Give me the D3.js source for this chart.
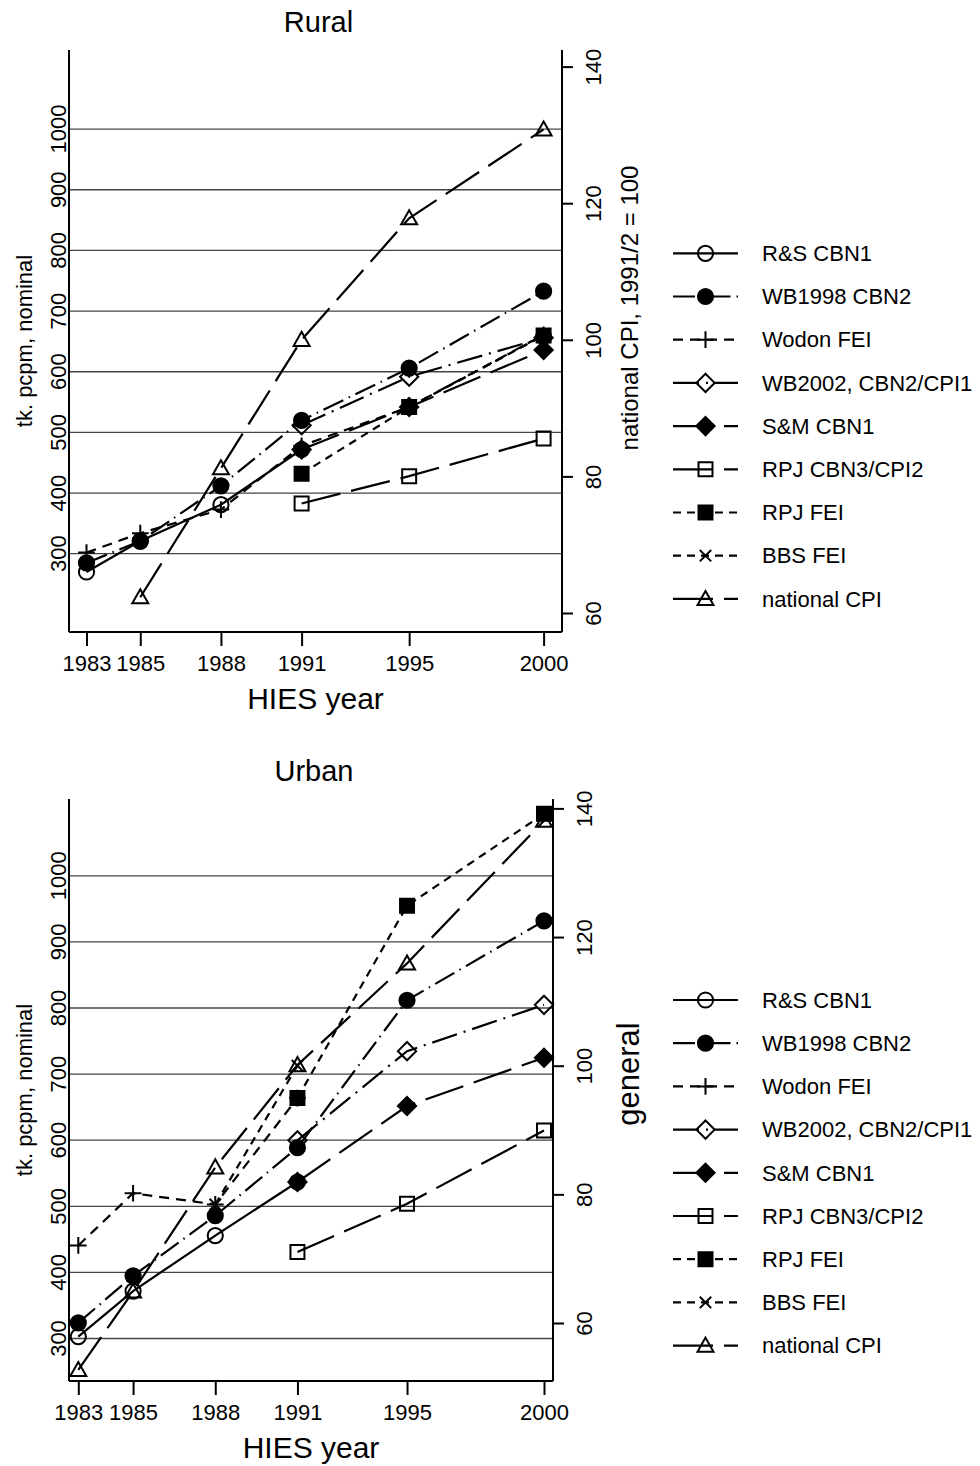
<!DOCTYPE html>
<html>
<head>
<meta charset="utf-8">
<script src="https://cdn.jsdelivr.net/npm/d3@7"></script>
<style>
  body { margin: 0; background: #fff; }
  svg { display: block; font-family: "Liberation Sans", Arial, sans-serif; }
</style>
</head>
<body>
<div id="chart"></div>
<script>
// DATA ------------------------

const years = [1983, 1985, 1988, 1991, 1995, 2000]
const leftTicks = [300, 400, 500, 600, 700, 800, 900, 1000]
const rightTicks = [60, 80, 100, 120, 140]
const seriesNames = [
  "R&S CBN1",
  "WB1998 CBN2",
  "Wodon FEI",
  "WB2002, CBN2/CPI1",
  "S&M CBN1",
  "RPJ CBN3/CPI2",
  "RPJ FEI",
  "BBS FEI",
  "national CPI",
]

// rural poverty lines, tk. pcpm (null = no estimate that year)
const ruralRS = [269, 320, 380, 471, null, null]
const ruralWB1998 = [284, 320, 411, 519, 605, 732]
const ruralWodon = [301, 333, 372, 477, 541, 660]
const ruralWB2002 = [null, null, null, 511, 591, 655]
const ruralSM = [null, null, null, 471, 541, 635]
const ruralRPJCbn = [null, null, null, 382, 427, 489]
const ruralRPJFei = [null, null, null, 431, 541, 659]
const ruralBBS = [null, null, null, null, 541, 659]
const ruralCPI = [null, 62.3, 81.2, 100, 117.8, 130.8] // right axis

// urban poverty lines, tk. pcpm
const urbanRS = [302, 371, 455, 536, null, null]
const urbanWB1998 = [323, 394, 485, 588, 811, 931]
const urbanWodon = [440, 519, 502, 663, null, null]
const urbanWB2002 = [null, null, null, 599, 734, 804]
const urbanSM = [null, null, null, 536, 651, 724]
const urbanRPJCbn = [null, null, null, 430, 503, 614]
const urbanRPJFei = [null, null, null, 663, 954, 1093]
const urbanBBS = [null, null, 502, 712, null, null]
const urbanCPI = [52.7, 64.9, 84.2, 100.1, 115.9, 138.1] // right axis

// STYLES ----------------------

const seriesStyles = [
  { marker: "circle", filled: false, dash: null },
  { marker: "circle", filled: true, dash: "22,6,1.5,6" },
  { marker: "plus", filled: false, dash: "10,7" },
  { marker: "diamond", filled: false, dash: "26,7,2,7" },
  { marker: "diamond", filled: true, dash: "40,11" },
  { marker: "square", filled: false, dash: "40,11" },
  { marker: "square", filled: true, dash: "8,6" },
  { marker: "cross", filled: false, dash: "8,6" },
  { marker: "triangle", filled: false, dash: "40,11" },
]

const FONT_XTICK = 22
const FONT_YTICK = 22
const FONT_AXIS_TITLE = 22
const FONT_LEGEND = 22
const MARKER = 7.6

const panels = [
  {
    title: "Rural",
    series: [ruralRS, ruralWB1998, ruralWodon, ruralWB2002, ruralSM, ruralRPJCbn, ruralRPJFei, ruralBBS, ruralCPI],
    frame: { top: 50, bottom: 632, left: 69, right: 562 },
    xRange: [86.5, 543.6],
    yRange: [553.2, 128.6],
    y2Range: [613, 66.6],
    rightTitle: "national CPI, 1991/2 = 100",
    rightTitleSize: 24,
    rightTitleX: 630,
    rightTitleY: 308,
    legendTop: 253.3,
  },
  {
    title: "Urban",
    series: [urbanRS, urbanWB1998, urbanWodon, urbanWB2002, urbanSM, urbanRPJCbn, urbanRPJFei, urbanBBS, urbanCPI],
    frame: { top: 799, bottom: 1381, left: 69, right: 553 },
    xRange: [78.3, 544],
    yRange: [1338, 875.3],
    y2Range: [1323, 808.4],
    rightTitle: "general",
    rightTitleSize: 31,
    rightTitleX: 628,
    rightTitleY: 1074,
    legendTop: 1000,
  },
]

const markerPath = (type, s) => {
  switch (type) {
    case "circle":
      return `M${-s},0a${s},${s} 0 1,0 ${2 * s},0a${s},${s} 0 1,0 ${-2 * s},0Z`
    case "square":
      return `M${-s * 0.92},${-s * 0.92}H${s * 0.92}V${s * 0.92}H${-s * 0.92}Z`
    case "diamond":
      return `M0,${-s * 1.2}L${s * 1.2},0L0,${s * 1.2}L${-s * 1.2},0Z`
    case "triangle":
      return `M0,${-s * 1.05}L${s * 1.05},${s * 0.8}L${-s * 1.05},${s * 0.8}Z`
    case "plus":
      return `M${-s * 1.1},0H${s * 1.1}M0,${-s * 1.1}V${s * 1.1}`
    case "cross":
      return `M${-s * 0.75},${-s * 0.75}L${s * 0.75},${s * 0.75}M${-s * 0.75},${s * 0.75}L${s * 0.75},${-s * 0.75}`
  }
}

const drawMarker = (g, style, x, y) => {
  g.append("path")
    .attr("d", markerPath(style.marker, MARKER))
    .attr("transform", `translate(${x},${y})`)
    .attr("fill", style.filled ? "#000" : "none")
    .attr("stroke", "#000")
    .attr("stroke-width", 2)
}

const svg = d3
  .select("#chart")
  .append("svg")
  .attr("width", 980)
  .attr("height", 1466)

panels.forEach(p => {
  const { frame } = p
  const g = svg.append("g").attr("class", "panel")

  // SCALES ----------------------

  const xScale = d3.scaleLinear().domain([1983, 2000]).range(p.xRange)
  const yScale = d3.scaleLinear().domain([300, 1000]).range(p.yRange)
  const y2Scale = d3.scaleLinear().domain([60, 140]).range(p.y2Range)

  // GRID ------------------------

  g.append("g")
    .attr("class", "grid")
    .attr("transform", `translate(${frame.left},0)`)
    .call(
      d3.axisLeft(yScale)
        .tickValues(leftTicks)
        .tickSize(-(frame.right - frame.left))
        .tickFormat("")
    )
    .call(s => s.select(".domain").remove())
    .selectAll("line")
    .attr("stroke", "#444")
    .attr("stroke-width", 1.3)

  // AXES ------------------------

  const gXAxis = g
    .append("g")
    .attr("transform", `translate(0,${frame.bottom})`)
    .call(d3.axisBottom(xScale).tickValues(years).tickSize(14).tickFormat(d3.format("d")))
  gXAxis.select(".domain").attr("d", `M${frame.left},0H${frame.right}`)
  gXAxis.selectAll("line").attr("stroke-width", 2)
  gXAxis
    .selectAll("text")
    .attr("y", 31)
    .attr("dy", "0.35em")
    .style("font-size", FONT_XTICK)
    .attr("fill", "#000")
    .attr("font-family", "Liberation Sans, Arial, sans-serif")

  const gYAxis = g
    .append("g")
    .attr("transform", `translate(${frame.left},0)`)
    .call(d3.axisLeft(yScale).tickValues(leftTicks).tickSize(0).tickFormat(d3.format("d")))
  gYAxis.select(".domain").attr("d", `M0,${frame.top}V${frame.bottom}`)
  gYAxis
    .selectAll("text")
    .attr("transform", "rotate(-90)")
    .attr("x", 0)
    .attr("y", -11)
    .attr("dy", "0.35em")
    .attr("text-anchor", "middle")
    .style("font-size", FONT_YTICK)
    .attr("font-family", "Liberation Sans, Arial, sans-serif")

  const gY2Axis = g
    .append("g")
    .attr("transform", `translate(${frame.right},0)`)
    .call(d3.axisRight(y2Scale).tickValues(rightTicks).tickSize(11))
  gY2Axis.select(".domain").attr("d", `M0,${frame.top}V${frame.bottom}`)
  gY2Axis.selectAll("line").attr("stroke-width", 2)
  gY2Axis
    .selectAll("text")
    .attr("transform", "rotate(-90)")
    .attr("x", 0)
    .attr("y", 31)
    .attr("dy", "0.35em")
    .attr("text-anchor", "middle")
    .style("font-size", FONT_YTICK)
    .attr("font-family", "Liberation Sans, Arial, sans-serif")

  g.selectAll(".domain").attr("stroke", "#000").attr("stroke-width", 2)

  // TITLES ----------------------

  g.append("text")
    .attr("x", (frame.left + frame.right) / 2 + 3)
    .attr("y", frame.top - 28)
    .attr("dy", "0.35em")
    .attr("text-anchor", "middle")
    .style("font-size", 29)
    .text(p.title)

  g.append("text")
    .attr("x", (frame.left + frame.right) / 2)
    .attr("y", frame.bottom + 66)
    .attr("dy", "0.35em")
    .attr("text-anchor", "middle")
    .style("font-size", 30)
    .text("HIES year")

  g.append("text")
    .attr("transform", `translate(24,${(frame.top + frame.bottom) / 2}) rotate(-90)`)
    .attr("dy", "0.35em")
    .attr("text-anchor", "middle")
    .style("font-size", FONT_AXIS_TITLE)
    .text("tk. pcpm, nominal")

  g.append("text")
    .attr("transform", `translate(${p.rightTitleX},${p.rightTitleY}) rotate(-90)`)
    .attr("dy", "0.35em")
    .attr("text-anchor", "middle")
    .style("font-size", p.rightTitleSize)
    .text(p.rightTitle)

  // SERIES ----------------------

  p.series.forEach((values, i) => {
    const style = seriesStyles[i]
    const yS = i === p.series.length - 1 ? y2Scale : yScale
    const pts = years
      .map((yr, j) => ({ year: yr, value: values[j] }))
      .filter(d => d.value !== null)

    const line = d3
      .line()
      .x(d => xScale(d.year))
      .y(d => yS(d.value))

    g.append("path")
      .datum(pts)
      .attr("d", line)
      .attr("fill", "none")
      .attr("stroke", "#000")
      .attr("stroke-width", 2.2)
      .attr("stroke-dasharray", style.dash)

    const gm = g.append("g")
    pts.forEach(d => drawMarker(gm, style, xScale(d.year), yS(d.value)))
  })

  // LEGEND ----------------------

  const legend = g.append("g").attr("class", "legend")
  seriesNames.forEach((name, i) => {
    const style = seriesStyles[i]
    const y = p.legendTop + i * 43.2
    legend
      .append("line")
      .attr("x1", 673)
      .attr("x2", 738)
      .attr("y1", y)
      .attr("y2", y)
      .attr("stroke", "#000")
      .attr("stroke-width", 2.2)
      .attr("stroke-dasharray", style.dash)
    drawMarker(legend, style, 705.5, y)
    legend
      .append("text")
      .attr("x", 762)
      .attr("y", y)
      .attr("dy", "0.35em")
      .style("font-size", FONT_LEGEND)
      .text(name)
  })
})
</script>
</body>
</html>
